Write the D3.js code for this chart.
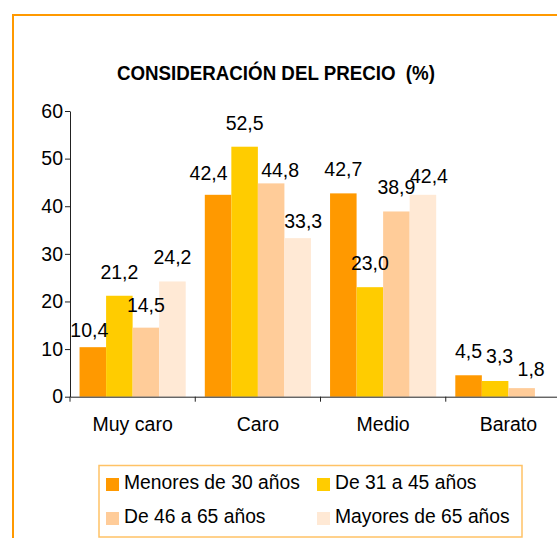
<!DOCTYPE html>
<html>
<head>
<meta charset="utf-8">
<script src="https://cdn.jsdelivr.net/npm/d3@7"></script>
<style>
  body { margin: 0; background: #fff; }
  svg { display: block; font-family: "Liberation Sans", Arial, sans-serif; }
  .title { font-weight: bold; font-size: 20px; white-space: pre; }
  .axis text { font-size: 19.5px; fill: #000; }
  .axis path, .axis line { stroke: #222; }
  .value { font-size: 19.5px; text-anchor: middle; }
  .legend text { font-size: 19.3px; }
</style>
</head>
<body>
<svg width="557" height="538"></svg>
<script>
const categories = ["Muy caro", "Caro", "Medio", "Barato"];
const series = ["Menores de 30 años", "De 31 a 45 años", "De 46 a 65 años", "Mayores de 65 años"];
const menores30 = [10.4, 42.4, 42.7, 4.5];
const de31a45   = [21.2, 52.5, 23.0, 3.3];
const de46a65   = [14.5, 44.8, 38.9, 1.8];
const mayores65 = [24.2, 33.3, 42.4, null];
const yTicks = [0, 10, 20, 30, 40, 50, 60];

const values = [menores30, de31a45, de46a65, mayores65];
const color = d3.scaleOrdinal(series, ["#FF9900", "#FFCC00", "#FFCC99", "#FFE9D5"]);

const svg = d3.select("svg");
const W = 557, H = 538;

// chart frame (cut off at the right and bottom, as in the original)
svg.append("path")
    .attr("d", `M13,${H} V15 H${W}`)
    .attr("fill", "none")
    .attr("stroke", "#FF9900")
    .attr("stroke-width", 2);

svg.append("text").attr("class", "title")
    .attr("x", 117).attr("y", 80)
    .attr("textLength", 318)
    .attr("lengthAdjust", "spacingAndGlyphs")
    .text("CONSIDERACIÓN DEL PRECIO  (%)");

const x = d3.scaleBand().domain(categories).range([70, 571]);
const xIn = d3.scaleBand().domain(series).range([0, x.bandwidth()])
    .paddingInner(0).paddingOuter(0.36);
const y = d3.scaleLinear().domain([0, 60]).range([396.7, 111]);

const fmt = d3.formatLocale({decimal: ",", thousands: ".", grouping: [3], currency: ["", ""]}).format(".1f");

// bars
const rows = [];
values.forEach((vals, si) => vals.forEach((v, ci) => {
    if (v != null) rows.push({cat: categories[ci], ser: series[si], v, si, ci});
}));

svg.append("g").selectAll("rect")
    .data(rows)
    .join("rect")
    .attr("x", d => x(d.cat) + xIn(d.ser))
    .attr("y", d => y(d.v))
    .attr("width", xIn.bandwidth())
    .attr("height", d => y(0) - y(d.v))
    .attr("fill", d => color(d.ser));

// label nudges to avoid overlaps, [series][category] -> [dx, dy]
const labelShift = [
    [[-3.5, 6.5], [-9.5, 2], [0, 0], [0, 0]],
    [[0, 0], [0, 0], [0, 0], [4.5, -1.3]],
    [[0, 1], [9, 10.3], [0, 0], [9.5, 5]],
    [[0, 0], [5.5, 7], [6, 5.4], [0, 0]]
];

svg.append("g").selectAll("text")
    .data(rows)
    .join("text").attr("class", "value")
    .attr("x", d => x(d.cat) + xIn(d.ser) + xIn.bandwidth() / 2 + labelShift[d.si][d.ci][0])
    .attr("y", d => y(d.v) - 17 + labelShift[d.si][d.ci][1])
    .text(d => fmt(d.v));

// axes
svg.append("g").attr("class", "axis")
    .attr("transform", "translate(70,0)")
    .call(d3.axisLeft(y).tickValues(yTicks).tickSize(5).tickPadding(2).tickSizeOuter(0));

const xG = svg.append("g").attr("class", "axis")
    .attr("transform", `translate(0,${y(0)})`)
    .call(d3.axisBottom(x).tickSize(0).tickSizeOuter(0));
xG.selectAll("text").attr("dy", null).attr("y", 34);

xG.selectAll("line.bound")
    .data(categories)
    .join("line").attr("class", "bound")
    .attr("x1", d => x(d)).attr("x2", d => x(d))
    .attr("y1", 0).attr("y2", 5);

// legend
const legend = svg.append("g").attr("class", "legend");
legend.append("rect")
    .attr("x", 99).attr("y", 465.5)
    .attr("width", 423).attr("height", 71.5)
    .attr("fill", "#fff")
    .attr("stroke", "#FFC266")
    .attr("stroke-width", 1.5);

const colX = [106, 317], rowY = [489, 523];
legend.selectAll("g.item")
    .data(series)
    .join("g").attr("class", "item")
    .each(function(d, i) {
        const gx = colX[i % 2], gy = rowY[Math.floor(i / 2)];
        d3.select(this).append("rect")
            .attr("x", gx).attr("y", gy - 11)
            .attr("width", 13).attr("height", 13)
            .attr("fill", color(d));
        d3.select(this).append("text")
            .attr("x", gx + 18).attr("y", gy)
            .text(d);
    });
</script>
</body>
</html>
